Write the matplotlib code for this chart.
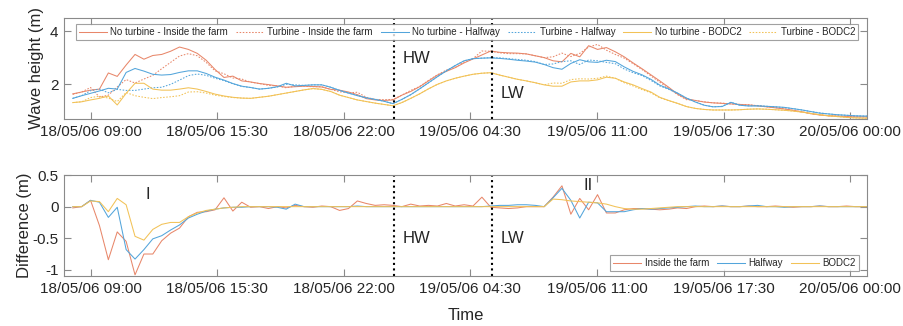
import datetime as dt
import numpy as np
import matplotlib
matplotlib.use("Agg")
import matplotlib.pyplot as plt
import matplotlib.dates as mdates

plt.rcParams['font.family'] = ['Liberation Sans', 'DejaVu Sans']

# Model output sampling
start = dt.datetime(2006, 5, 18, 8, 5)
step = dt.timedelta(minutes=27.4)

# Significant wave height (m) without turbines
nt_in = [1.63, 1.70, 1.77, 1.81, 2.42, 2.29, 2.72, 3.12, 2.94, 3.08,
         3.12, 3.24, 3.40, 3.31, 3.16, 2.90, 2.55, 2.25, 2.30, 2.12,
         2.08, 2.02, 1.98, 1.93, 1.88, 1.90, 1.92, 1.91, 1.89, 1.80,
         1.77, 1.70, 1.60, 1.45, 1.40, 1.38, 1.40, 1.58, 1.72, 1.90,
         2.12, 2.34, 2.48, 2.62, 2.80, 2.95, 3.10, 3.25, 3.20, 3.18,
         3.17, 3.14, 3.07, 3.00, 2.88, 2.84, 3.16, 3.03, 3.45, 3.31,
         3.38, 3.22, 3.03, 2.80, 2.58, 2.35, 2.12, 1.88, 1.62, 1.44,
         1.38, 1.32, 1.29, 1.27, 1.25, 1.23, 1.21, 1.18, 1.14, 1.10,
         1.06, 1.01, 0.95, 0.88, 0.83, 0.80, 0.79, 0.77, 0.76, 0.76, 0.76]
nt_half = [1.46, 1.56, 1.65, 1.74, 1.84, 1.81, 2.44, 2.59, 2.49, 2.37,
           2.34, 2.36, 2.44, 2.50, 2.50, 2.40, 2.26, 2.15, 2.02, 1.92,
           1.87, 1.81, 1.84, 1.90, 2.03, 1.93, 1.95, 1.97, 1.97, 1.88,
           1.76, 1.66, 1.56, 1.48, 1.42, 1.35, 1.26, 1.42, 1.60, 1.82,
           2.05, 2.28, 2.50, 2.70, 2.88, 2.96, 2.98, 2.99, 2.97, 2.94,
           2.90, 2.87, 2.83, 2.74, 2.62, 2.56, 2.78, 2.92, 2.84, 2.82,
           2.90, 2.85, 2.65, 2.48, 2.35, 2.18, 1.96, 1.82, 1.66, 1.47,
           1.32, 1.20, 1.14, 1.15, 1.31, 1.20, 1.17, 1.17, 1.16, 1.14,
           1.12, 1.07, 1.02, 0.96, 0.90, 0.87, 0.84, 0.82, 0.80, 0.79, 0.79]
nt_bodc = [1.30, 1.33, 1.40, 1.46, 1.55, 1.21, 1.65, 2.03, 2.03, 1.81,
           1.77, 1.77, 1.81, 1.86, 1.81, 1.72, 1.62, 1.55, 1.50, 1.47,
           1.46, 1.50, 1.54, 1.60, 1.66, 1.72, 1.78, 1.83, 1.80, 1.72,
           1.58, 1.49, 1.40, 1.34, 1.28, 1.23, 1.18, 1.30, 1.46, 1.63,
           1.82, 1.99, 2.12, 2.22, 2.30, 2.37, 2.41, 2.43, 2.34, 2.26,
           2.18, 2.12, 2.05, 1.97, 1.92, 1.92, 2.08, 2.12, 2.12, 2.16,
           2.26, 2.22, 2.08, 1.97, 1.83, 1.70, 1.50, 1.38, 1.27, 1.15,
           1.08, 1.04, 1.02, 1.02, 1.02, 1.03, 1.05, 1.06, 1.05, 1.03,
           1.01, 0.98, 0.94, 0.89, 0.84, 0.80, 0.77, 0.74, 0.72, 0.71, 0.71]

# Significant wave height (m) with turbines
t_in = [1.61, 1.70, 1.87, 1.51, 1.58, 1.89, 2.17, 2.04, 2.19, 2.33,
        2.58, 2.82, 3.06, 3.15, 3.07, 2.82, 2.50, 2.39, 2.23, 2.19,
        2.07, 2.02, 1.95, 1.93, 1.86, 1.92, 1.92, 1.90, 1.90, 1.80,
        1.71, 1.67, 1.69, 1.50, 1.42, 1.41, 1.42, 1.58, 1.76, 1.91,
        2.14, 2.35, 2.53, 2.63, 2.83, 2.96, 3.25, 3.24, 3.18, 3.15,
        3.15, 3.14, 3.07, 3.00, 3.03, 3.17, 3.04, 3.16, 3.40, 3.50,
        3.28, 3.12, 2.98, 2.77, 2.55, 2.31, 2.07, 1.84, 1.60, 1.41,
        1.38, 1.33, 1.29, 1.28, 1.25, 1.23, 1.22, 1.18, 1.14, 1.11,
        1.06, 1.00, 0.95, 0.88, 0.84, 0.80, 0.79, 0.78, 0.76, 0.76, 0.76]
t_half = [1.46, 1.56, 1.75, 1.81, 1.67, 1.80, 1.76, 1.76, 1.81, 1.86,
          1.88, 1.99, 2.15, 2.32, 2.38, 2.33, 2.22, 2.13, 2.01, 1.91,
          1.87, 1.81, 1.84, 1.89, 1.99, 1.97, 1.95, 1.97, 1.97, 1.88,
          1.76, 1.66, 1.57, 1.48, 1.42, 1.35, 1.26, 1.42, 1.60, 1.82,
          2.05, 2.28, 2.50, 2.70, 2.88, 2.96, 2.98, 3.00, 2.99, 2.96,
          2.93, 2.90, 2.85, 2.74, 2.76, 2.85, 2.88, 2.74, 2.91, 2.88,
          2.82, 2.77, 2.57, 2.43, 2.32, 2.14, 1.93, 1.80, 1.65, 1.47,
          1.33, 1.20, 1.14, 1.16, 1.31, 1.20, 1.18, 1.19, 1.16, 1.14,
          1.11, 1.07, 1.02, 0.96, 0.91, 0.87, 0.84, 0.82, 0.80, 0.79, 0.79]
t_bodc = [1.30, 1.33, 1.49, 1.54, 1.47, 1.34, 1.68, 1.56, 1.50, 1.45,
          1.49, 1.52, 1.56, 1.70, 1.71, 1.66, 1.58, 1.53, 1.49, 1.47,
          1.46, 1.50, 1.54, 1.60, 1.66, 1.72, 1.78, 1.83, 1.80, 1.72,
          1.58, 1.49, 1.40, 1.34, 1.28, 1.23, 1.18, 1.30, 1.46, 1.63,
          1.82, 1.99, 2.12, 2.22, 2.30, 2.37, 2.41, 2.43, 2.34, 2.26,
          2.18, 2.12, 2.05, 1.97, 2.04, 2.03, 2.17, 2.20, 2.19, 2.22,
          2.30, 2.22, 2.05, 1.93, 1.79, 1.67, 1.48, 1.37, 1.27, 1.15,
          1.08, 1.04, 1.02, 1.02, 1.02, 1.03, 1.05, 1.06, 1.05, 1.03,
          1.01, 0.98, 0.94, 0.89, 0.84, 0.80, 0.77, 0.74, 0.72, 0.71, 0.71]

# Tide markers
hw_time = dt.datetime(2006, 5, 19, 0, 34)
lw_time = dt.datetime(2006, 5, 19, 5, 36)

times = [start + k * step for k in range(len(nt_in))]

red = '#E8876A'
blue = '#53A5DB'
yellow = '#F2C257'
grey = '#8a8a8a'
ink = '#262626'

fig = plt.figure(figsize=(9.04, 3.26), dpi=100)
ax1 = fig.add_axes([0.0708, 0.635, 0.888, 0.310])
ax2 = fig.add_axes([0.0708, 0.153, 0.888, 0.310])

lw = 0.75
dots = (0, (1.5, 1.5))
ax1.plot(times, nt_in, color=red, lw=lw, label='No turbine - Inside the farm')
ax1.plot(times, t_in, color=red, lw=lw, ls=dots, label='Turbine - Inside the farm')
ax1.plot(times, nt_half, color=blue, lw=lw, label='No turbine - Halfway')
ax1.plot(times, t_half, color=blue, lw=lw, ls=dots, label='Turbine - Halfway')
ax1.plot(times, nt_bodc, color=yellow, lw=lw, label='No turbine - BODC2')
ax1.plot(times, t_bodc, color=yellow, lw=lw, ls=dots, label='Turbine - BODC2')

# Turbine minus no-turbine
diff_in = np.array(t_in) - np.array(nt_in)
diff_half = np.array(t_half) - np.array(nt_half)
diff_bodc = np.array(t_bodc) - np.array(nt_bodc)
ax2.plot(times, diff_in, color=red, lw=lw, label='Inside the farm')
ax2.plot(times, diff_half, color=blue, lw=lw, label='Halfway')
ax2.plot(times, diff_bodc, color=yellow, lw=lw, label='BODC2')

xmin = dt.datetime(2006, 5, 18, 7, 38)
xmax = dt.datetime(2006, 5, 20, 0, 51)
first_tick = dt.datetime(2006, 5, 18, 9, 0)
ticks = [first_tick + k * dt.timedelta(hours=6.5) for k in range(7)]

for ax in (ax1, ax2):
    ax.axvline(hw_time, color='black', ls=':', lw=1.5)
    ax.axvline(lw_time, color='black', ls=':', lw=1.5)
    ax.set_xlim(xmin, xmax)
    ax.set_xticks(ticks)
    ax.xaxis.set_major_formatter(mdates.DateFormatter('%d/%m/%y %H:%M'))
    ax.tick_params(which='both', direction='in', length=5, width=0.8,
                   color=grey, top=True, right=True, labelsize=11,
                   labelcolor=ink, pad=4)
    for s in ax.spines.values():
        s.set_color(grey)
        s.set_linewidth(0.8)

ax1.set_ylim(0.68, 4.5)
ax1.set_yticks([2, 4])
ax2.set_ylim(-1.1, 0.5)
ax2.set_yticks([-1, -0.5, 0, 0.5])
ax2.set_yticklabels(['-1', '-0.5', '0', '0.5'])

ax1.set_ylabel('Wave height (m)', fontsize=12, color=ink, labelpad=4)
ax2.set_ylabel('Difference (m)', fontsize=12, color=ink, labelpad=0.5)
ax2.set_xlabel('Time', fontsize=12, color=ink, labelpad=9)

ax1.text(0.422, 0.60, 'HW', fontsize=12, color=ink, transform=ax1.transAxes, va='center')
ax1.text(0.544, 0.255, 'LW', fontsize=12, color=ink, transform=ax1.transAxes, va='center')
ax2.text(0.422, 0.37, 'HW', fontsize=12, color=ink, transform=ax2.transAxes, va='center')
ax2.text(0.544, 0.37, 'LW', fontsize=12, color=ink, transform=ax2.transAxes, va='center')
ax2.text(0.105, 0.81, 'I', fontsize=12, color=ink, transform=ax2.transAxes, va='center', ha='center')
ax2.text(0.653, 0.90, 'II', fontsize=12, color=ink, transform=ax2.transAxes, va='center', ha='center')

leg1 = ax1.legend(loc='upper center', bbox_to_anchor=(0.502, 0.935), ncol=6,
                  fontsize=7, frameon=True, fancybox=False, borderaxespad=0,
                  handlelength=2.9, handletextpad=0.35, columnspacing=0.8,
                  borderpad=0.3)
leg2 = ax2.legend(loc='lower right', bbox_to_anchor=(0.990, 0.05), ncol=3,
                  fontsize=7, frameon=True, fancybox=False, borderaxespad=0,
                  handlelength=2.9, handletextpad=0.35, columnspacing=0.8,
                  borderpad=0.3)
for leg in (leg1, leg2):
    leg.get_frame().set_edgecolor(grey)
    leg.get_frame().set_linewidth(0.8)
    for t in leg.get_texts():
        t.set_color(ink)

fig.savefig('out.png', dpi=100)
